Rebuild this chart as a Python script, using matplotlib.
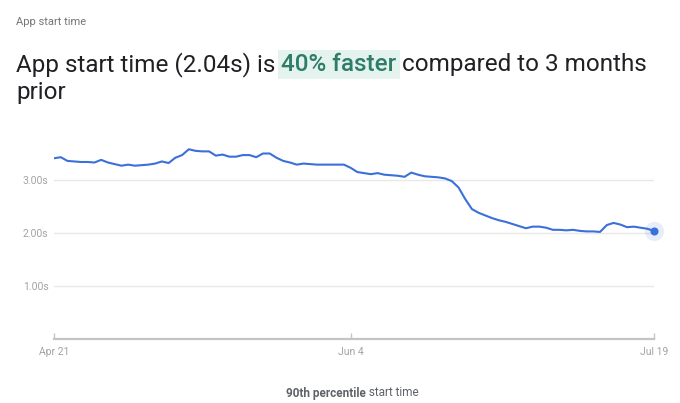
import datetime as dt
import numpy as np
import matplotlib
matplotlib.use("Agg")
import matplotlib.pyplot as plt
import matplotlib.dates as mdates

plt.rcParams["font.family"] = ["Roboto", "DejaVu Sans"]

START = dt.date(2024, 4, 21)
# daily 90th percentile start time (s), Apr 21 .. Jul 19
start_time = [
    3.41, 3.43, 3.36, 3.35, 3.34, 3.34, 3.33, 3.38, 3.33, 3.30,
    3.27, 3.29, 3.27, 3.28, 3.29, 3.31, 3.35, 3.32, 3.42, 3.47,
    3.58, 3.55, 3.54, 3.54, 3.46, 3.48, 3.44, 3.44, 3.47, 3.47,
    3.43, 3.50, 3.50, 3.42, 3.36, 3.33, 3.29, 3.31, 3.30, 3.29,
    3.29, 3.29, 3.29, 3.29, 3.23, 3.15, 3.13, 3.11, 3.13, 3.10,
    3.09, 3.08, 3.06, 3.14, 3.10, 3.07, 3.06, 3.05, 3.03, 2.98,
    2.86, 2.64, 2.45, 2.38, 2.33, 2.28, 2.24, 2.21, 2.17, 2.13,
    2.09, 2.12, 2.12, 2.10, 2.06, 2.06, 2.05, 2.06, 2.04, 2.03,
    2.03, 2.02, 2.15, 2.19, 2.16, 2.11, 2.12, 2.10, 2.08, 2.04,
]
dates = [START + dt.timedelta(days=i) for i in range(len(start_time))]
x_ticks = [dt.date(2024, 4, 21), dt.date(2024, 6, 4), dt.date(2024, 7, 19)]
x_labels = ["Apr 21", "Jun 4", "Jul 19"]
y_ticks = [1.0, 2.0, 3.0]
y_labels = ["1.00s", "2.00s", "3.00s"]

BLUE = "#3a70d9"
W, H = 680, 403
fig = plt.figure(figsize=(W / 100, H / 100), dpi=100)
# axes placed in pixel coords: x 54..654, y 0 at 339
ymax = 3.8
top_px = 339 - ymax * 53
ax = fig.add_axes([54 / W, (H - 339) / H, 600 / W, (339 - top_px) / H])
ax.plot(dates, start_time, color=BLUE, lw=1.5, solid_joinstyle="round", zorder=3)
ax.scatter([dates[-1]], [start_time[-1]], s=190, color=BLUE, alpha=0.12, lw=0, zorder=4, clip_on=False)
ax.scatter([dates[-1]], [start_time[-1]], s=34, color=BLUE, lw=0, zorder=5, clip_on=False)

ax.set_xlim(dates[0], dates[-1])
ax.set_ylim(0, ymax)
ax.set_yticks(y_ticks, y_labels)
ax.set_xticks(x_ticks, x_labels)
ax.grid(axis="y", color="#e8e8e8", lw=1)
ax.set_axisbelow(True)
for s in ["top", "right", "left"]:
    ax.spines[s].set_visible(False)
ax.spines["bottom"].set_color("#c4c4c4")
ax.spines["bottom"].set_linewidth(1.6)
ax.tick_params(axis="y", length=0, pad=4, labelsize=7.5, labelcolor="#a3a3a3")
ax.tick_params(axis="x", direction="in", length=4, width=1, color="#c4c4c4",
               pad=6, labelsize=7.5, labelcolor="#a3a3a3")

# headings
fig.text(16 / W, 1 - 22 / H, "App start time", fontsize=8, color="#757575", va="center")
fs = 17.5
y1 = 1 - 71 / H
r = fig.canvas.get_renderer()
t1 = fig.text(16 / W, y1, "App start time (2.04s) is ", fontsize=fs, color="#202124", va="baseline")
bb = t1.get_window_extent(r)
t2 = fig.text(bb.x1 / W, y1, "40% faster", fontsize=fs, color="#2f7d68", va="baseline",
              fontweight="medium",
              bbox=dict(facecolor="#e5f3ef", edgecolor="none", pad=2.5))
bb2 = t2.get_window_extent(r)
fig.text(bb2.x1 / W, y1, " compared to 3 months", fontsize=fs, color="#202124", va="baseline")
fig.text(16 / W, 1 - 99 / H, "prior", fontsize=fs, color="#202124", va="baseline")

# caption
c1 = fig.text(0, 1 - 393 / H, "90th percentile", fontsize=8.5, fontweight="bold", color="#5f6368", va="center")
c2 = fig.text(0, 1 - 393 / H, " start time", fontsize=8.5, color="#5f6368", va="center")
w1 = c1.get_window_extent(r).width
w2 = c2.get_window_extent(r).width
x0 = 352 - (w1 + w2) / 2
c1.set_x(x0 / W)
c2.set_x((x0 + w1) / W)

fig.savefig("out.png", dpi=100)
